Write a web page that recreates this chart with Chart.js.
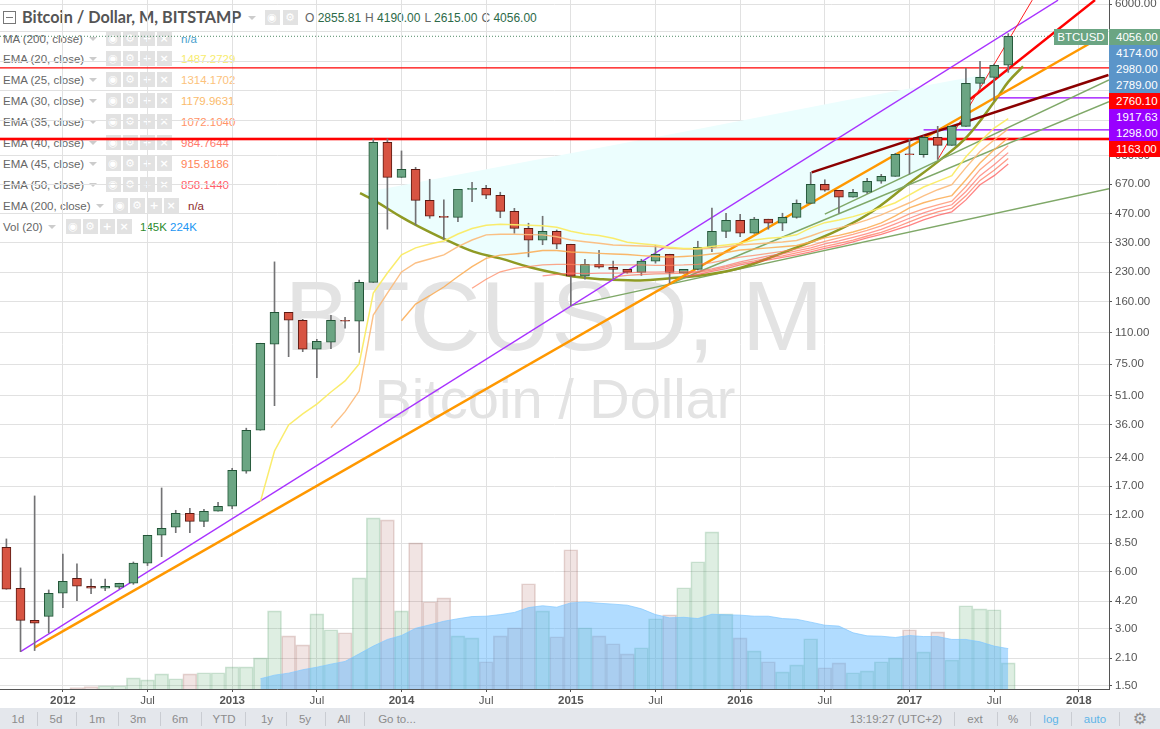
<!DOCTYPE html>
<html>
<head>
<meta charset="utf-8">
<title>Bitcoin / Dollar, M, BITSTAMP</title>
<script src="https://cdn.jsdelivr.net/npm/chart.js@4"></script>
<style>
    html, body { margin: 0; padding: 0; background: #fff; width: 1160px; height: 729px; overflow: hidden; }
    body { position: relative; font-family: 'Liberation Sans', sans-serif; color: #555; }
    #chart { position: absolute; left: 0; top: 0; z-index: 2; }
    .row { position: absolute; left: 3px; height: 16px; line-height: 16px; font-size: 11.5px; color: #666; white-space: nowrap; z-index: 1; }
    .abs { position: absolute; white-space: nowrap; }
    .ic { position: absolute; top: 0; width: 15px; height: 15px; margin-left: -7.5px; background: #e2e2e2; color: #fff; font: bold 11px/15px 'DejaVu Sans'; text-align: center; }
    .arrow { position: absolute; top: 6px; width: 0; height: 0; border: 4px solid transparent; border-top: 4px solid #ccc; margin-left: -4px; }
    #title { position: absolute; left: 22px; top: 6px; font-family: 'Lato', sans-serif; font-size: 16.2px; line-height: 22px; color: #555; font-weight: bold; z-index: 1; white-space: nowrap; }
    #ohlc { position: absolute; left: 305px; top: 9px; font-size: 12px; line-height: 18px; color: #666; z-index: 1; white-space: nowrap; }
    #ohlc b { font-weight: normal; color: #2d6a48; margin-right: 4px; }
    #collapse { position: absolute; left: 3px; top: 11px; width: 11px; height: 11px; border: 1px solid #777; z-index: 1; }
    #collapse:after { content: ''; position: absolute; left: 2px; right: 2px; top: 5px; height: 1px; background: #777; }
    .tag { position: absolute; left: 1109px; width: 51px; color: #fff; font: 11.5px/16px 'Liberation Sans', sans-serif; z-index: 3; padding-left: 7px; box-sizing: border-box; }
    #symbol { position: absolute; left: 1054px; top: 29px; width: 54px; height: 16px; background: #6ba583; color: #fff; font: 11.5px/16px 'Liberation Sans', sans-serif; text-align: center; z-index: 3; }
    #toolbar { position: absolute; left: 0; top: 708px; width: 1160px; height: 21px; background: #e4e7ec; z-index: 3; font-size: 11.5px; line-height: 22px; color: #8c8c8c; }
    #toolbar span { position: absolute; transform: translateX(-50%); white-space: nowrap; }
    #toolbar i { position: absolute; top: 4px; height: 14px; width: 1px; background: #c9ccd2; }
</style>
</head>
<body>
<canvas id="chart" width="1160" height="729"></canvas>
<div id="collapse"></div>
<div id="title">Bitcoin / Dollar, M, BITSTAMP</div>
<div id="ohlc"></div>
<div id="symbol">BTCUSD</div>
<div id="toolbar"></div>
<script>
// monthly bars, index 0 = Sep 2011, last = Aug 2017
const xTicks = [4, 10, 16, 22, 28, 34, 40, 46, 52, 58, 64, 70, 76];
const xTickLabels = ['2012', 'Jul', '2013', 'Jul', '2014', 'Jul', '2015', 'Jul', '2016', 'Jul', '2017', 'Jul', '2018'];
const yTicks = [6000, 4300, 3000, 2100, 1450, 950, 670, 470, 330, 230, 160, 110, 75, 51, 36, 24, 17, 12, 8.5, 6, 4.2, 3, 2.1, 1.5];
// these ticks sit under the price tags, so only their grid line shows
const yTicksNoLabel = [4300, 3000, 2100, 1450];

const opens = [8.09, 4.91, 3.32, 3.49, 4.62, 5.54, 5.03, 4.91, 4.97, 5.22, 6.66, 9.36, 10.31, 12.23, 11.09, 12.53, 13.32, 20.38, 33.58, 95.7,
    141, 128, 90, 98, 128, 126.5, 203, 1116, 729, 804, 551, 454, 448, 630, 638, 586, 482, 392, 339, 378,
    323, 219, 253, 244, 238, 229.5, 263, 286, 227, 238, 311, 378, 432, 369, 438, 417, 448, 531, 670, 623,
    572, 608, 695, 738, 969, 960, 1187, 1076, 1356, 2289, 2462, 2855.81];
const highs = [8.95, 6.29, 15.1, 4.81, 7.45, 6.6, 5.49, 5.49, 5.22, 6.76, 9.36, 16.64, 12.68, 13, 12.84, 13.98, 21.14, 34.44, 96.8, 260.6,
    141, 129.5, 101.6, 135.9, 132.7, 209, 1163, 1163, 1005, 823, 712, 554, 630, 687, 662, 608, 500, 417, 454, 384,
    323, 269, 300, 263, 238, 269, 319, 286, 238, 335, 502, 471, 465, 448, 438, 471, 554, 775, 708, 623,
    630, 720, 756, 977, 1158, 1206, 1356, 1356, 2747, 2991, 2895, 4190];
const lows = [4.85, 2.27, 2.3, 2.85, 3.88, 4.22, 4.6, 4.77, 4.88, 5.15, 6.47, 7.21, 9.66, 9.66, 10.39, 12.53, 12.93, 19.9, 33.58, 45.3,
    82.2, 87.4, 63.7, 90.7, 116.2, 86.7, 203, 388, 729, 408, 443, 343, 425, 542, 562, 446, 369, 277, 321, 306,
    153, 211, 241, 213, 227, 221, 256.5, 201, 227, 236, 295, 350, 354, 369, 388, 381, 443, 531, 615, 471,
    572, 600, 678, 738, 759, 931, 908, 1076, 1356, 2154, 1852, 2615];
const closes = [4.85, 3.32, 3.21, 4.62, 5.34, 5.03, 4.91, 5.03, 5.22, 6.66, 9.36, 10.19, 12.23, 11.09, 12.53, 13.32, 20.64, 33.58, 96.8, 141,
    128, 90, 99.2, 128, 126.5, 203, 1116, 729, 804, 551, 454, 448, 630, 638, 586, 482, 392, 339, 378, 323,
    219, 253, 244, 238, 229.5, 263, 286, 229.5, 238, 311, 378, 432, 369, 438, 417, 448, 531, 670, 623, 572,
    608, 695, 738, 965, 960, 1187, 1076, 1356, 2289, 2462, 2849, 4056];

// volume in thousands
const volumes = [0, 0, 0, 0, 0, 8, 14, 18, 18, 62, 51, 84, 57, 84, 90, 90, 123, 123, 173, 434,
    295, 245, 417, 329, 312, 617, 950, 939, 434, 811, 484, 506, 295, 284, 151, 295, 340, 584, 434, 290,
    773, 340, 295, 251, 195, 229, 390, 412, 562, 706, 872, 417, 284, 212, 151, 95, 134, 279, 118, 145,
    90, 101, 151, 173, 329, 206, 317, 162, 462, 445, 440, 145];
const volMaStart = 18;
const volMa = [57, 77, 88, 107, 121, 138, 153, 195, 238, 275, 297, 337, 356, 376, 390, 402, 404, 413, 425, 452, 462, 454,
    478, 482, 476, 471, 465, 445, 413, 395, 398, 391, 415, 412, 410, 404, 404, 391, 387, 371, 354, 349,
    312, 295, 293, 286, 297, 291, 291, 275, 275, 262, 238, 224];

const ema20Start = 18;
const ema20 = [14.09, 26.1, 35.85, 41, 46.2, 53.5, 61.2, 75.2, 178.4, 227.7, 284, 309, 324, 336, 366, 391, 407, 412, 410, 407, 404, 397,
    378, 366, 359, 347, 331, 325, 320, 311, 307, 307, 314, 320, 327, 340, 347, 352, 362, 394, 420, 434,
    452, 475, 503, 535, 589, 648, 694, 744, 937, 1124, 1328, 1487.27];
const ema25Start = 23;
const ema25 = [34.6, 42.1, 54.1, 136.4, 178.4, 230.5, 257, 270, 284, 314, 340, 362, 365, 365, 363, 362, 354,
    340, 333, 327, 320, 318, 316, 314, 307, 305, 305, 307, 313, 320, 324, 328, 332, 338, 357, 380, 394,
    411, 434, 462, 497, 535, 582, 627, 666, 820, 999, 1148, 1314.17];
const ema30Start = 28;
const ema30 = [127.4, 156, 172.6, 192, 218, 246, 272, 283, 287, 292, 299, 299,
    294, 292, 289, 287, 285, 281, 278, 276, 278, 281, 287, 292, 301, 305, 309, 313, 318, 332, 349, 360,
    375, 394, 419, 456, 503, 535, 561, 584, 708, 868, 1021, 1179.96];
const ema35Start = 33;
const ema35 = [189, 211, 231, 241, 246, 251, 253,
    253, 251, 251, 251, 251, 251, 250, 250, 251, 253, 258, 267, 276, 282, 289, 296, 305, 318, 334, 349,
    364, 382, 404, 432, 467, 497, 522, 545, 652, 800, 922, 1072.1];
const ema40Start = 38;
const ema40 = [219.5, 224, 227, 226, 227, 227, 228, 230, 230, 230.5, 231, 232, 239, 249, 260.5, 270, 280, 287, 298, 309, 324, 336,
    351, 368, 387, 414, 443, 473, 500, 522, 614, 744, 850, 984.76];
const ema45Start = 43;
const ema45 = [217, 221, 223.5, 225, 226, 227, 229, 236, 245, 256, 264, 273.5, 280, 291, 301.5, 315, 326,
    340, 357, 373, 396, 424, 453, 479, 500, 582, 702, 794, 915.82];
const ema50Start = 48;
const ema50 = [217, 223.5, 232, 240, 251, 259, 267, 275, 284, 294, 307, 318,
    332, 349, 364, 385, 406, 434, 459, 479, 554, 666, 744, 858.14];

// drawn lines, as [month index, price]
const arcCurve = [[25.06, 601], [26, 554.5], [28, 449], [29.1, 405], [31, 345], [33.1, 295], [35, 272], [37.1, 244], [39, 227], [40.15, 218],
    [42.1, 211], [44.9, 208], [47.2, 214], [49.2, 221], [52, 242], [55, 291], [58.2, 362], [61, 462], [64, 680], [66.2, 904], [68.1, 1200], [70.1, 1868], [71, 2330], [72.05, 2810]];
const arcTop = [[25.06, 601], [48.66, 1297], [59.6, 1868], [68.5, 2480], [72.05, 2810]];
const purpleLine = [[1, 2.27], [74.53, 6300]];
const orangeLine = [[2, 2.39], [76.8, 3725]];
const redLine = [[68.3, 1884], [77.15, 6300]];
const thinRedLine = [[66, 904], [72.7, 6300]];
const darkRedLine = [[57.07, 774], [78.1, 2532]];
const greenLines = [
    [[40, 153], [78.14, 634]],
    [[47, 199], [78.14, 1830]],
    [[58, 466], [78.14, 2383]]
];
const lastPrice = 4056;
const redLevels = [2760.1, 1163];
const purpleLevels = [[70, 1917.63], [65, 1298]];

const xMin = -0.454;
const xMax = 78.14;

const datasets = [];
// later pushes are painted on top
function add(ds) {
    ds.order = 1000 - datasets.length;
    datasets.push(ds);
    return datasets.length - 1;
}
function series(start, values) {
    return values.map((v, i) => ({ x: start + i, y: v }));
}
function pts(list) {
    return list.map(p => ({ x: p[0], y: p[1] }));
}
function line(data, color, width, extra) {
    return Object.assign({ type: 'line', data: data, borderColor: color, borderWidth: width, pointRadius: 0, fill: false, tension: 0, yAxisID: 'y' }, extra || {});
}

// volume and its MA
const isUp = opens.map((o, i) => closes[i] >= o);
add({
    type: 'bar', yAxisID: 'yVol', grouped: false, barThickness: 14,
    data: series(0, volumes).filter(p => p.y > 0),
    backgroundColor: volumes.map((v, i) => i).filter(i => volumes[i] > 0).map(i => isUp[i] ? 'rgba(100,175,120,0.21)' : 'rgba(170,90,80,0.16)'),
    borderColor: volumes.map((v, i) => i).filter(i => volumes[i] > 0).map(i => isUp[i] ? 'rgba(70,150,95,0.25)' : 'rgba(140,70,60,0.22)'),
    borderWidth: 1
});
add(line(series(volMaStart, volMa), 'rgba(130,200,255,0.7)', 1, { yAxisID: 'yVol', fill: 'origin', backgroundColor: 'rgba(90,180,255,0.47)' }));

// arc and its cyan area
const arcIndex = add(line(pts(arcCurve), '#8f9a24', 2.5, { tension: 0.4 }));
datasets[arcIndex].order = 990;
const cyanIndex = add(line(pts(arcTop), 'rgba(0,0,0,0)', 0, { fill: { target: arcIndex, above: '#ecfefe', below: '#ecfefe' } }));
datasets[cyanIndex].order = 2000;

// levels and trend lines
redLevels.forEach((v, i) => add(line(pts([[xMin, v], [xMax, v]]), '#ff0000', i === 1 ? 2 : 1.2)));
add(line(pts([[xMin, redLevels[1]], [xMax, redLevels[1]]]), 'rgba(255,0,0,0.3)', 4));
purpleLevels.forEach(p => add(line(pts([[p[0], p[1]], [xMax, p[1]]]), '#9900ff', 1.2)));
add(line(pts([[xMin, lastPrice], [xMax, lastPrice]]), '#4f8a66', 1, { borderDash: [1, 2] }));
greenLines.forEach(g => add(line(pts(g), '#7fa868', 1.5)));
add(line(pts(purpleLine), '#a832ff', 1.3));
add(line(pts(orangeLine), '#ff9800', 2.5));
add(line(pts(redLine), '#ff0000', 2.5));
add(line(pts(thinRedLine), '#ff2020', 1));
add(line(pts(darkRedLine), '#8b0000', 2.5));

// candles: wick first, body on top
add({
    type: 'bar', grouped: false, barThickness: 1, yAxisID: 'y',
    data: highs.map((h, i) => ({ x: i, y: [lows[i], h] })),
    backgroundColor: '#737375', borderWidth: 0
});
add({
    type: 'bar', grouped: false, barThickness: 9, yAxisID: 'y',
    data: opens.map((o, i) => ({ x: i, y: [o, closes[i]] })),
    backgroundColor: isUp.map(u => u ? '#6ba583' : '#d75442'),
    borderColor: isUp.map(u => u ? '#225437' : '#5b1a13'),
    borderWidth: 1, borderSkipped: false
});

// EMA ribbon
add(line(series(ema50Start, ema50), 'rgba(255,80,80,0.7)', 1.3));
add(line(series(ema45Start, ema45), 'rgba(255,100,70,0.65)', 1.3));
add(line(series(ema40Start, ema40), 'rgba(255,110,100,0.7)', 1.3));
add(line(series(ema35Start, ema35), 'rgba(255,130,90,0.7)', 1.3));
add(line(series(ema30Start, ema30), 'rgba(252,170,80,0.85)', 1.4));
add(line(series(ema25Start, ema25), 'rgba(252,185,120,0.9)', 1.4));
add(line(series(ema20Start, ema20), 'rgba(250,235,100,0.95)', 1.5));

// big grey symbol behind the bars
const watermark = {
    id: 'watermark',
    beforeDatasetsDraw(chart) {
        const c = chart.ctx;
        c.save();
        c.fillStyle = '#e3e3e3';
        c.textAlign = 'center';
        c.textBaseline = 'alphabetic';
        c.font = '98px "Liberation Sans"';
        c.fillText('BTCUSD, M', 554, 350);
        c.font = '56px "Liberation Sans"';
        c.fillText('Bitcoin / Dollar', 555, 418);
        c.restore();
    }
};

new Chart(document.getElementById('chart').getContext('2d'), {
    data: { datasets: datasets },
    plugins: [watermark],
    options: {
        responsive: false,
        animation: false,
        events: [],
        layout: { padding: 0 },
        plugins: { legend: { display: false }, tooltip: { enabled: false } },
        scales: {
            x: {
                type: 'linear', min: xMin, max: xMax, offset: false, bounds: 'data',
                afterBuildTicks: axis => { axis.ticks = xTicks.map(v => ({ value: v })); },
                afterFit: axis => { axis.height = 40; axis.paddingLeft = 0; axis.paddingRight = 0; },
                grid: { color: '#e1e1e1', offset: false, tickLength: 3, tickColor: '#555' },
                border: { color: '#555', width: 1 },
                ticks: {
                    autoSkip: false, maxRotation: 0, padding: 2, color: '#555',
                    font: ctx => ({ family: 'Liberation Sans', size: 11.5, weight: ctx.tick && xTickLabels[xTicks.indexOf(ctx.tick.value)] === 'Jul' ? 'normal' : 'bold' }),
                    callback: value => xTickLabels[xTicks.indexOf(value)]
                }
            },
            y: {
                type: 'logarithmic', position: 'right', min: 1.441, max: 6308, bounds: 'data',
                afterBuildTicks: axis => { axis.ticks = yTicks.map(v => ({ value: v })); },
                // no room kept for the half label of the top tick, the plot runs to the page edge
                afterFit: axis => { axis.width = 51; axis.paddingTop = 0; axis.paddingBottom = 0; },
                grid: { color: '#e1e1e1', tickLength: 3, tickColor: '#555' },
                border: { color: '#555', width: 1 },
                ticks: {
                    autoSkip: false, padding: 3, color: '#555', font: { family: 'Liberation Sans', size: 11.5 },
                    callback: value => yTicksNoLabel.includes(value) ? '' : Number(value).toFixed(2)
                }
            },
            yVol: { type: 'linear', display: false, min: 0, max: 3824 }
        }
    }
});

// header rows
const rowNames = ['MA (200, close)', 'EMA (20, close)', 'EMA (25, close)', 'EMA (30, close)', 'EMA (35, close)', 'EMA (40, close)', 'EMA (45, close)', 'EMA (50, close)', 'EMA (200, close)', 'Vol (20)'];
const rowValues = ['n/a', '1487.2729', '1314.1702', '1179.9631', '1072.1040', '984.7644', '915.8186', '858.1440', 'n/a', '145K'];
const rowColors = ['#4a9fce', '#f7ec6e', '#fcc27c', '#fbbb6c', '#ff9468', '#ff7a6c', '#ff8458', '#ff5f6a', '#8b2a2a', '#2e8b2e'];
const rowTops = [31, 51, 72, 93, 114, 135, 156, 177, 198, 219];
const iconGlyphs = ['◉', '⚙', '+', '×'];

function makeIcons(parent, xs) {
    xs.forEach((x, k) => {
        const ic = document.createElement('div');
        ic.className = 'ic';
        ic.style.left = x + 'px';
        ic.textContent = iconGlyphs[k];
        parent.appendChild(ic);
    });
}
rowNames.forEach((name, i) => {
    const row = document.createElement('div');
    row.className = 'row';
    row.style.top = rowTops[i] + 'px';
    row.textContent = name;
    const shift = i === 8 ? 7 : 0;
    const arrow = document.createElement('div');
    arrow.className = 'arrow';
    arrow.style.left = (i === 9 ? 49 : 90 + shift) + 'px';
    row.appendChild(arrow);
    const base = i === 9 ? 70 : 110 + shift;
    makeIcons(row, [base, base + 17, base + 34, base + 51]);
    const val = document.createElement('div');
    val.className = 'abs';
    val.style.left = (i === 9 ? 137 : 178 + shift) + 'px';
    val.style.top = '0';
    val.style.color = rowColors[i];
    val.textContent = rowValues[i];
    row.appendChild(val);
    if (i === 9) {
        const ma = document.createElement('div');
        ma.className = 'abs';
        ma.style.left = '167px';
        ma.style.top = '0';
        ma.style.color = '#2196f3';
        ma.textContent = '224K';
        row.appendChild(ma);
    }
    document.body.appendChild(row);
});

const titleIcons = document.createElement('div');
titleIcons.className = 'row';
titleIcons.style.top = '10px';
titleIcons.style.left = '0';
makeIcons(titleIcons, [272, 290]);
document.body.appendChild(titleIcons);
const titleArrow = document.createElement('div');
titleArrow.className = 'arrow';
titleArrow.style.left = '252px';
titleArrow.style.top = '16px';
document.body.appendChild(titleArrow);

const ohlcNames = ['O', 'H', 'L', 'C'];
const ohlcValues = ['2855.81', '4190.00', '2615.00', '4056.00'];
document.getElementById('ohlc').innerHTML = ohlcNames.map((n, i) => `${n} <b>${ohlcValues[i]}</b>`).join('');

// price tags on the right axis
const tagTexts = ['4056.00', '4174.00', '2980.00', '2789.00', '2760.10', '1917.63', '1298.00', '1163.00'];
const tagTops = [29, 45, 61, 77, 93, 109, 125, 141];
const tagColors = ['#6ba583', '#5b95c9', '#5b95c9', '#5b95c9', '#ff0000', '#9900ff', '#9900ff', '#ff0000'];
tagTexts.forEach((t, i) => {
    const el = document.createElement('div');
    el.className = 'tag';
    el.style.top = tagTops[i] + 'px';
    el.style.background = tagColors[i];
    el.style.height = '16px';
    el.textContent = t;
    document.body.appendChild(el);
});

// bottom toolbar
const toolbar = document.getElementById('toolbar');
const barTexts = ['1d', '5d', '1m', '3m', '6m', 'YTD', '1y', '5y', 'All', 'Go to...', '13:19:27 (UTC+2)', 'ext', '%', 'log', 'auto', '⚙'];
const barCenters = [18, 56, 97, 138, 180, 224, 267, 305, 344, 397, 896, 975, 1013, 1051, 1095, 1140];
const barSeps = [37, 76, 118, 160, 201, 245, 286, 325, 364, 954, 997, 1030, 1071, 1119];
barTexts.forEach((t, i) => {
    const s = document.createElement('span');
    s.textContent = t;
    s.style.left = barCenters[i] + 'px';
    if (t === 'log' || t === 'auto') s.style.color = '#5fb5e8';
    if (t === '⚙') { s.style.fontFamily = 'DejaVu Sans'; s.style.fontSize = '16px'; }
    toolbar.appendChild(s);
});
barSeps.forEach(x => {
    const sep = document.createElement('i');
    sep.style.left = x + 'px';
    toolbar.appendChild(sep);
});
</script>
</body>
</html>
